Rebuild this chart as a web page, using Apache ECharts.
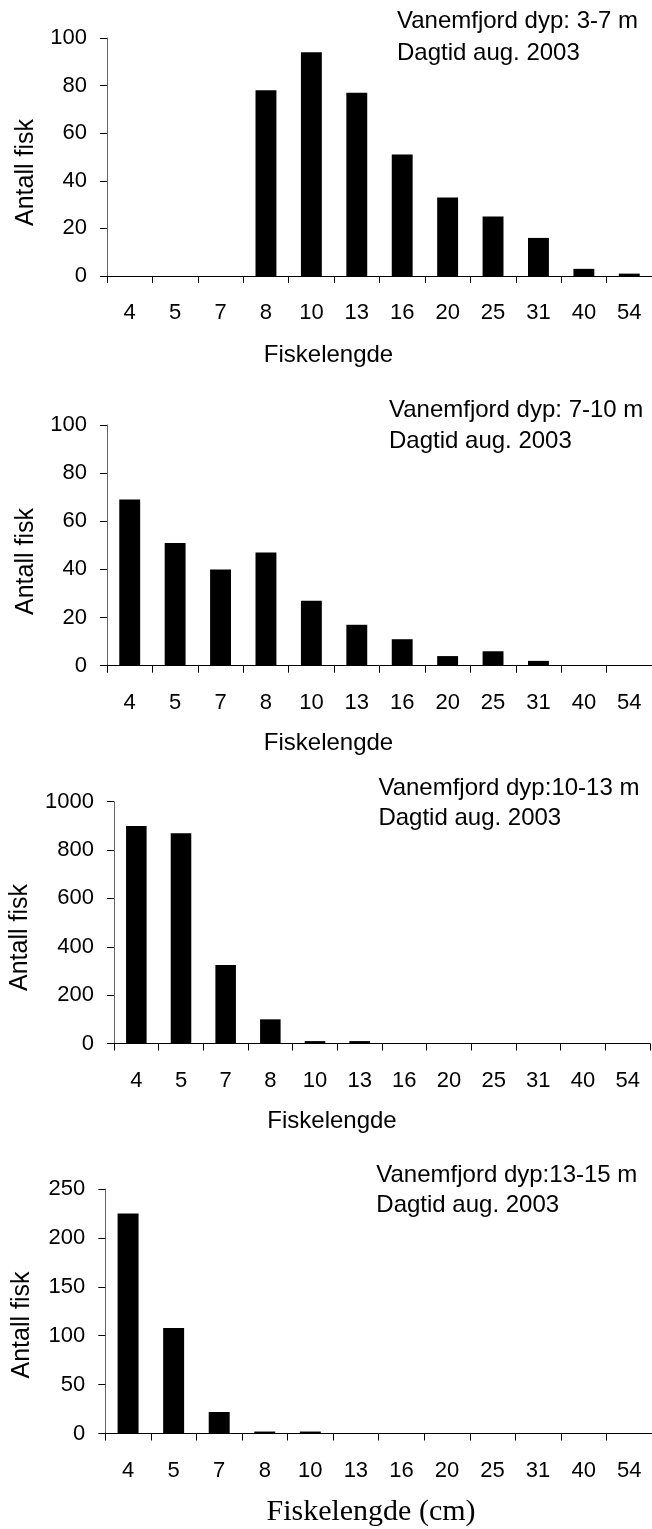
<!DOCTYPE html>
<html>
<head>
<meta charset="utf-8">
<script src="https://cdn.jsdelivr.net/npm/echarts@6/dist/echarts.min.js"></script>
<style>
  html, body { margin: 0; padding: 0; background: #fff; }
  #chart { width: 652px; height: 1529px; }
</style>
</head>
<body>
<div id="chart"></div>
<script>
// Length classes (cm) shared by all four depth panels
const lengthClasses = ['4', '5', '7', '8', '10', '13', '16', '20', '25', '31', '40', '54'];

// Number of fish per length class, one array per depth interval
const catch3to7   = [0, 0, 0, 78, 94, 77, 51, 33, 25, 16, 3, 1];
const catch7to10  = [69, 51, 40, 47, 27, 17, 11, 4, 6, 2, 0, 0];
const catch10to13 = [900, 870, 325, 100, 10, 10, 0, 0, 0, 0, 0, 0];
const catch13to15 = [225, 108, 22, 2, 2, 0, 0, 0, 0, 0, 0, 0];

// Y-axis scales per panel
const yMax      = [100, 100, 1000, 250];
const yInterval = [20, 20, 200, 50];

// Panel captions
const depthLabels = [
  'Vanemfjord dyp: 3-7 m',
  'Vanemfjord dyp: 7-10 m',
  'Vanemfjord dyp:10-13 m',
  'Vanemfjord dyp:13-15 m'
];
const periodLabel = 'Dagtid aug. 2003';
const yName = 'Antall fisk';
const xName = 'Fiskelengde';
const xNameLast = 'Fiskelengde (cm)';

const seriesData = [catch3to7, catch7to10, catch10to13, catch13to15];

// Layout of each plot area
const grids = [
  { left: 107,   top: 38,    width: 546.5, height: 238 },
  { left: 107,   top: 425,   width: 546.5, height: 240.7 },
  { left: 114,   top: 801.7, width: 536,   height: 241.8 },
  { left: 105.3, top: 1189,  width: 549.8, height: 244.5 }
];
const captionPos = [
  { x: 397,   y1: 21.7,  y2: 53.3 },
  { x: 389,   y1: 410,   y2: 441.7 },
  { x: 378.4, y1: 788.3, y2: 818.3 },
  { x: 376.3, y1: 1175,  y2: 1205 }
];
const yNamePos = [
  { x: 26, y: 172.5 }, { x: 26, y: 561.5 }, { x: 19.7, y: 937.5 }, { x: 21.8, y: 1325 }
];
const xNamePos = [
  { x: 328.5, y: 355 }, { x: 328.5, y: 743 }, { x: 332, y: 1121.7 }
];

const SANS = '"Liberation Sans", Arial, sans-serif';
const SERIF = '"Liberation Serif", "Times New Roman", serif';

const chart = echarts.init(document.getElementById('chart'), null, { renderer: 'canvas' });

const xAxes = grids.map((g, i) => ({
  type: 'category',
  gridIndex: i,
  data: lengthClasses,
  boundaryGap: true,
  axisLine: { show: true, lineStyle: { color: '#000', width: 1 } },
  axisTick: { show: true, inside: false, length: 7, interval: 0, alignWithLabel: false, lineStyle: { color: '#000' } },
  axisLabel: { interval: 0, color: '#000', fontSize: 22, fontFamily: SANS, margin: 26 },
  splitLine: { show: false }
}));

const yAxes = grids.map((g, i) => ({
  type: 'value',
  gridIndex: i,
  min: 0,
  max: yMax[i],
  interval: yInterval[i],
  axisLine: { show: true, lineStyle: { color: '#666', width: 1 } },
  axisTick: { show: true, inside: false, length: 7, lineStyle: { color: '#000' } },
  axisLabel: { color: '#000', fontSize: 22, fontFamily: SANS, margin: 20, formatter: (v) => String(v) },
  splitLine: { show: false }
}));

const series = seriesData.map((d, i) => ({
  type: 'bar',
  xAxisIndex: i,
  yAxisIndex: i,
  data: d,
  barWidth: '46%',
  itemStyle: { color: '#000', borderColor: '#000', borderWidth: 0 },
  silent: true
}));

const graphics = [];
captionPos.forEach((p, i) => {
  graphics.push({
    type: 'text', x: p.x, y: p.y1,
    style: { text: depthLabels[i], font: '24px ' + SANS, fill: '#000', textAlign: 'left', textVerticalAlign: 'middle' }
  });
  graphics.push({
    type: 'text', x: p.x, y: p.y2,
    style: { text: periodLabel, font: '24px ' + SANS, fill: '#000', textAlign: 'left', textVerticalAlign: 'middle' }
  });
});
yNamePos.forEach((p) => {
  graphics.push({
    type: 'text', x: p.x, y: p.y, rotation: Math.PI / 2,
    style: { text: yName, font: '25px ' + SANS, fill: '#000', textAlign: 'center', textVerticalAlign: 'middle' }
  });
});
xNamePos.forEach((p) => {
  graphics.push({
    type: 'text', x: p.x, y: p.y,
    style: { text: xName, font: '24px ' + SANS, fill: '#000', textAlign: 'center', textVerticalAlign: 'middle' }
  });
});
graphics.push({
  type: 'text', x: 371, y: 1512,
  style: { text: xNameLast, font: '30px ' + SERIF, fill: '#000', textAlign: 'center', textVerticalAlign: 'middle' }
});

chart.setOption({
  animation: false,
  backgroundColor: '#fff',
  grid: grids.map(g => Object.assign({ containLabel: false }, g)),
  xAxis: xAxes,
  yAxis: yAxes,
  series: series,
  graphic: graphics
});
</script>
</body>
</html>
